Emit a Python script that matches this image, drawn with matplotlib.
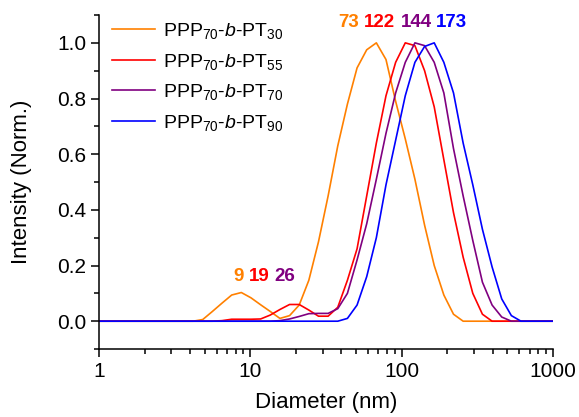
import matplotlib
matplotlib.use("Agg")
import matplotlib.pyplot as plt
from matplotlib.ticker import FixedLocator, NullFormatter, MultipleLocator

plt.rcParams['font.family'] = ['Liberation Sans', 'DejaVu Sans']
plt.rcParams['mathtext.fontset'] = 'custom'
plt.rcParams['mathtext.rm'] = 'Liberation Sans'
plt.rcParams['mathtext.it'] = 'Liberation Sans:italic'

# DLS size bins (nm)
diameter = [0.9649, 1.117, 1.294, 1.499, 1.736, 2.01, 2.328, 2.696, 3.122, 3.615,
            4.187, 4.849, 5.615, 6.503, 7.531, 8.721, 10.1, 11.7, 13.54, 15.69,
            18.17, 21.04, 24.36, 28.21, 32.67, 37.84, 43.82, 50.75, 58.77, 68.06,
            78.82, 91.28, 105.7, 122.4, 141.8, 164.2, 190.1, 220.2, 255.0, 295.3,
            342.0, 396.1, 458.7, 531.2, 615.1, 712.4, 825.0, 955.4, 1106]

pt30 = [0, 0, 0, 0, 0, 0, 0, 0, 0, 0,
        0, 0.006, 0.035, 0.065, 0.094, 0.103, 0.084, 0.059, 0.035, 0.01,
        0.02, 0.058, 0.147, 0.285, 0.45, 0.63, 0.78, 0.91, 0.975, 1.0,
        0.94, 0.79, 0.655, 0.51, 0.345, 0.2, 0.094, 0.025, 0, 0,
        0, 0, 0, 0, 0, 0, 0, 0, 0]
pt55 = [0, 0, 0, 0, 0, 0, 0, 0, 0, 0,
        0, 0, 0, 0.002, 0.007, 0.007, 0.007, 0.008, 0.022, 0.042,
        0.06, 0.06, 0.04, 0.018, 0.018, 0.05, 0.147, 0.26, 0.45, 0.64,
        0.81, 0.93, 1.0, 0.99, 0.90, 0.77, 0.58, 0.39, 0.23, 0.10,
        0.025, 0, 0, 0, 0, 0, 0, 0, 0]
pt70 = [0, 0, 0, 0, 0, 0, 0, 0, 0, 0,
        0, 0, 0, 0, 0, 0, 0, 0, 0, 0.002,
        0.008, 0.017, 0.027, 0.028, 0.028, 0.045, 0.10, 0.22, 0.35, 0.51,
        0.675, 0.82, 0.93, 1.0, 0.99, 0.93, 0.82, 0.62, 0.45, 0.29,
        0.14, 0.058, 0.015, 0, 0, 0, 0, 0, 0]
pt90 = [0, 0, 0, 0, 0, 0, 0, 0, 0, 0,
        0, 0, 0, 0, 0, 0, 0, 0, 0, 0,
        0, 0, 0, 0, 0, 0, 0.01, 0.058, 0.16, 0.30,
        0.49, 0.65, 0.81, 0.93, 0.987, 1.0, 0.93, 0.82, 0.64, 0.49,
        0.33, 0.195, 0.08, 0.02, 0, 0, 0, 0, 0]

labels = [r'PPP$_{70}$-$\it{b}$-PT$_{30}$', r'PPP$_{70}$-$\it{b}$-PT$_{55}$',
          r'PPP$_{70}$-$\it{b}$-PT$_{70}$', r'PPP$_{70}$-$\it{b}$-PT$_{90}$']
colors = ['#FF8000', '#FF0000', '#800080', '#0000FF']

# peak annotations
big_peaks = ['73', '122', '144', '173']
big_x = [44.6, 71.6, 125.6, 214.6]
small_peaks = ['9', '19', '26']
small_x = [8.33, 11.5, 16.8]

fig = plt.figure(figsize=(5.79, 4.17), dpi=100)
ax = fig.add_axes([0.171, 0.163, 0.784, 0.801])

for y, lab, c in zip([pt30, pt55, pt70, pt90], labels, colors):
    ax.plot(diameter, y, color=c, lw=1.2, label=lab)

ax.set_xscale('log')
ax.set_xlim(1, 1000)
ax.set_ylim(-0.1, 1.1)
ax.xaxis.set_major_locator(FixedLocator([1, 10, 100, 1000]))
ax.set_xticklabels(['1', '10', '100', '1000'])
ax.xaxis.set_minor_formatter(NullFormatter())
ax.yaxis.set_minor_locator(MultipleLocator(0.1))
ax.set_yticks([0, 0.2, 0.4, 0.6, 0.8, 1.0])
ax.set_yticklabels(['0.0', '0.2', '0.4', '0.6', '0.8', '1.0'])

for s in ['left', 'bottom']:
    ax.spines[s].set_linewidth(1.1)
ax.spines['top'].set_visible(False)
ax.spines['right'].set_visible(False)
ax.tick_params(which='major', direction='out', length=6, width=1.1, labelsize=15, pad=3)
ax.tick_params(which='minor', direction='out', length=3.5, width=1.1)

ax.set_xlabel('Diameter (nm)', fontsize=16, labelpad=8)
ax.set_ylabel('Intensity (Norm.)', fontsize=16, labelpad=18)

for t, xx, c in zip(big_peaks, big_x, colors):
    ax.text(xx, 1.072, t, color=c, fontsize=13.5, fontweight='bold', ha='center', va='center')
for t, xx, c in zip(small_peaks, small_x, colors):
    ax.text(xx, 0.162, t, color=c, fontsize=13.5, fontweight='bold', ha='center', va='center')

ax.legend(loc='upper left', bbox_to_anchor=(-0.01, 1.035), frameon=False, fontsize=14,
          handlelength=2.2, handletextpad=0.4, labelspacing=0.55)

plt.savefig('out.png', dpi=100)
